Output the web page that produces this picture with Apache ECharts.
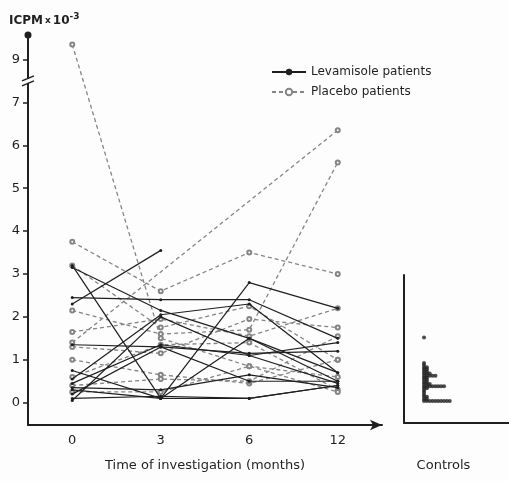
<!DOCTYPE html>
<html>
<head>
<meta charset="utf-8">
<script src="https://cdn.jsdelivr.net/npm/echarts@6/dist/echarts.min.js"></script>
<style>
  html, body { margin: 0; padding: 0; background: #fdfdfd; }
  #chart { width: 509px; height: 481px; }
</style>
</head>
<body>
<div id="chart"></div>
<script>
// time points (months)
const months = ['0', '3', '6', '12'];

// ICPM x 10^-3 per patient, at 0 / 3 / 6 / 12 months (null = not measured)
const levamisole = [
  [3.2, 0.1, 2.8, 2.2],
  [3.15, 2.15, 1.5, 0.5],
  [2.45, 2.4, 2.4, 1.5],
  [2.3, 3.55, null, null],
  [1.35, 1.3, 1.15, 1.2],
  [0.75, 0.1, 0.1, 0.4],
  [0.55, 2.05, 2.3, 0.7],
  [0.45, 1.35, 1.1, 1.4],
  [0.35, 0.3, 0.65, 0.35],
  [0.2, 1.3, 0.5, 0.5],
  [0.1, 0.15, 0.1, 0.4],
  [0.05, 2.0, 1.1, 0.45],
  [0.3, 0.1, 1.5, 0.7]
];
const placebo = [
  [9.35, 1.5, 0.85, 0.6],
  [3.75, 2.6, 3.5, 3.0],
  [1.4, null, null, 6.35],
  [2.15, 1.6, 1.7, 5.6],
  [1.65, 1.95, 1.55, 2.2],
  [1.3, 1.15, 1.95, 1.75],
  [1.0, 0.65, 0.45, 1.0],
  [0.6, 1.35, 1.4, 0.3],
  [0.4, 0.55, 0.5, 1.55],
  [0.25, 0.25, 0.85, 0.25],
  [3.2, 1.75, 2.25, 1.0]
];

// controls: value levels and how many controls sit at each level
const controlLevels = [1.5, 0.9, 0.85, 0.8, 0.75, 0.7, 0.65, 0.6, 0.55, 0.5, 0.45, 0.4, 0.35, 0.3, 0.25, 0.2, 0.15, 0.1, 0.05, 0.0];
const controlCounts = [1, 1, 1, 2, 2, 2, 3, 5, 2, 2, 2, 3, 8, 2, 1, 1, 1, 2, 2, 10];

// axis is broken between 7 and 9: values above the break move down one unit
const brk = v => (v == null ? null : (v > 7.5 ? v - 1 : v));

const ink = '#1f1f1f';
const grey = '#858585';

const series = [];
levamisole.forEach(p => {
  series.push({
    name: 'Levamisole patients', type: 'line', xAxisIndex: 0, yAxisIndex: 0,
    data: p.map(brk), connectNulls: true,
    symbol: 'circle', symbolSize: 3,
    lineStyle: { color: ink, width: 1.2 }, itemStyle: { color: ink },
    z: 3
  });
});
placebo.forEach(p => {
  series.push({
    name: 'Placebo patients', type: 'line', xAxisIndex: 0, yAxisIndex: 0,
    data: p.map(brk), connectNulls: true,
    symbol: 'emptyCircle', symbolSize: 4,
    lineStyle: { color: grey, width: 1.3, type: [4, 3] },
    itemStyle: { color: grey, borderWidth: 1.2 },
    z: 2
  });
});

const ctrl = [];
controlLevels.forEach((v, i) => {
  for (let k = 0; k < controlCounts[i]; k++) ctrl.push([k, v]);
});
series.push({
  name: 'Controls', type: 'scatter', xAxisIndex: 1, yAxisIndex: 1,
  data: ctrl, symbol: 'circle', symbolSize: 4,
  itemStyle: { color: ink }
});

const chart = echarts.init(document.getElementById('chart'));
chart.setOption({
  backgroundColor: '#fdfdfd',
  animation: false,
  textStyle: { fontFamily: 'DejaVu Sans', color: ink },
  title: {
    text: 'ICPM{s|x}10{sup|-3}',
    left: 4, top: 7,
    textStyle: {
      fontSize: 12, fontWeight: 'bold', color: ink,
      rich: {
        s: { fontSize: 9, fontWeight: 'bold', padding: [0, 2, 0, 2] },
        sup: { fontSize: 9, fontWeight: 'bold', verticalAlign: 'top', padding: [0, 0, 8, 0] }
      }
    }
  },
  legend: {
    data: ['Levamisole patients', 'Placebo patients'],
    orient: 'vertical', left: 266, top: 61,
    itemWidth: 34, itemHeight: 8, itemGap: 8,
    textStyle: { fontSize: 12, color: ink, fontFamily: 'DejaVu Sans' }
  },
  grid: [
    { left: 28, top: 35, right: 127, bottom: 56 },
    { left: 404, top: 275, right: -5, bottom: 58 }
  ],
  xAxis: [
    {
      gridIndex: 0, type: 'category', data: months, boundaryGap: true,
      name: 'Time of investigation (months)', nameLocation: 'middle', nameGap: 34,
      nameTextStyle: { fontSize: 13, color: ink },
      axisLine: { onZero: false, lineStyle: { color: ink, width: 2 }, symbol: ['none', 'arrow'], symbolSize: [8, 12] },
      axisTick: { alignWithLabel: true, length: 6, lineStyle: { color: ink, width: 1.5 } },
      axisLabel: { fontSize: 13, color: ink, margin: 9 },
      splitLine: { show: false }
    },
    {
      gridIndex: 1, type: 'value', min: -7, max: 29.7,
      name: 'Controls', nameLocation: 'middle', nameGap: 36,
      nameTextStyle: { fontSize: 13, color: ink, padding: [0, 0, 0, -26] },
      axisLine: { onZero: false, lineStyle: { color: ink, width: 2 } },
      axisTick: { show: false }, axisLabel: { show: false }, splitLine: { show: false }
    }
  ],
  yAxis: [
    {
      gridIndex: 0, type: 'value', min: -0.52, max: 8.57,
      axisLine: { show: true, onZero: false, lineStyle: { color: ink, width: 2 }, symbol: ['none', 'circle'], symbolSize: [7, 7] },
      axisTick: { show: true, inside: false, length: 5, customValues: [0, 1, 2, 3, 4, 5, 6, 7, 8], lineStyle: { color: ink, width: 1.5 } },
      axisLabel: {
        fontSize: 13, color: ink, margin: 8,
        customValues: [0, 1, 2, 3, 4, 5, 6, 7, 8],
        formatter: v => (v === 8 ? '9' : String(v))
      },
      splitLine: { show: false }
    },
    {
      gridIndex: 1, type: 'value', min: -0.52, max: 2.98,
      axisLine: { show: true, onZero: false, lineStyle: { color: ink, width: 2 } },
      axisTick: { show: false }, axisLabel: { show: false }, splitLine: { show: false }
    }
  ],
  series: series
});

// axis-break mark on the y axis between 7 and 9
const bp = chart.convertToPixel({ xAxisIndex: 0, yAxisIndex: 0 }, [0, 7.5]);
const gx = 28, gy = bp[1];
chart.setOption({
  graphic: [
    { type: 'rect', shape: { x: gx - 6, y: gy - 2, width: 12, height: 4 }, style: { fill: '#fdfdfd' }, z: 100 },
    { type: 'line', shape: { x1: gx - 6, y1: gy, x2: gx + 6, y2: gy - 5 }, style: { stroke: ink, lineWidth: 1.5 }, z: 101 },
    { type: 'line', shape: { x1: gx - 6, y1: gy + 5, x2: gx + 6, y2: gy }, style: { stroke: ink, lineWidth: 1.5 }, z: 101 }
  ]
});
</script>
</body>
</html>
